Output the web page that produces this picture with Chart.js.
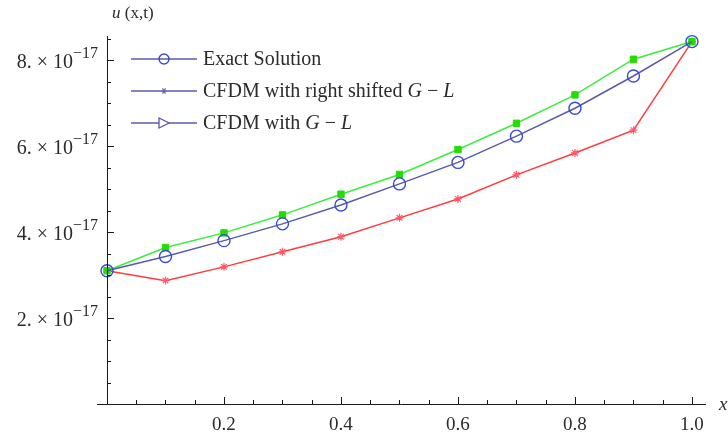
<!DOCTYPE html>
<html>
<head>
<meta charset="utf-8">
<script src="https://cdn.jsdelivr.net/npm/chart.js@4.4.1/dist/chart.umd.min.js"></script>
<style>
html,body{margin:0;padding:0;background:#fff;}
#wrap{width:728px;height:434px;}
</style>
</head>
<body>
<div id="wrap"><canvas id="c" width="728" height="434"></canvas></div>
<script>
// ---- data ----
const xValues = [0.0, 0.1, 0.2, 0.3, 0.4, 0.5, 0.6, 0.7, 0.8, 0.9, 1.0];
const exactSolution = [3.10e-17, 3.43e-17, 3.80e-17, 4.19e-17, 4.63e-17, 5.12e-17, 5.62e-17, 6.23e-17, 6.88e-17, 7.63e-17, 8.43e-17];
const rightShiftedGL = [3.10e-17, 2.87e-17, 3.19e-17, 3.54e-17, 3.89e-17, 4.33e-17, 4.77e-17, 5.33e-17, 5.84e-17, 6.37e-17, 8.43e-17];
const standardGL = [3.10e-17, 3.64e-17, 3.98e-17, 4.40e-17, 4.88e-17, 5.34e-17, 5.92e-17, 6.53e-17, 7.19e-17, 8.02e-17, 8.43e-17];
const xTickValues = [0.2, 0.4, 0.6, 0.8, 1.0];
const xTickLabels = ['0.2', '0.4', '0.6', '0.8', '1.0'];
const yTickValues = [2e-17, 4e-17, 6e-17, 8e-17];
const yTickMantissas = ['2.', '4.', '6.', '8.'];
const yTickExponent = '\u221217';
const legendLabels = [
  [['Exact Solution', false]],
  [['CFDM with right shifted ', false], ['G', true], [' \u2212 ', false], ['L', true]],
  [['CFDM with ', false], ['G', true], [' \u2212 ', false], ['L', true]]
];
const yAxisTitle = [['u', true], [' (x,t)', false]];
const xAxisTitle = 'x';

const SERIF = '"Liberation Serif", "DejaVu Serif", serif';
const TEXT = '#2b2b2b';
const AXIS = '#1a1a1a';

function pts(ys){ return xValues.map((x,i)=>({x:x, y:ys[i]})); }

function drawRich(ctx, parts, x, y, size){
  let cx = x;
  for (const [t, it] of parts){
    ctx.font = (it ? 'italic ' : '') + size + 'px ' + SERIF;
    ctx.fillText(t, cx, y);
    cx += ctx.measureText(t).width;
  }
  return cx;
}

const axesPlugin = {
  id: 'mmaAxes',
  afterDatasetsDraw(chart){
    const ctx = chart.ctx, xs = chart.scales.x, ys = chart.scales.y, ca = chart.chartArea;
    const x0 = xs.getPixelForValue(0), y0 = ys.getPixelForValue(0);
    ctx.save();
    ctx.strokeStyle = AXIS; ctx.lineWidth = 1;
    // axes lines
    ctx.beginPath();
    ctx.moveTo(x0 - 10, y0 + 0.5); ctx.lineTo(ca.right, y0 + 0.5);
    ctx.moveTo(x0 + 0.5, y0); ctx.lineTo(x0 + 0.5, ca.top);
    ctx.stroke();
    // x ticks
    ctx.beginPath();
    for (let k = 1; k <= 20; k++){
      const v = k * 0.05;
      const px = Math.round(xs.getPixelForValue(v)) + 0.5;
      const major = (k % 4 === 0);
      ctx.moveTo(px, y0); ctx.lineTo(px, y0 - (major ? 7 : 4));
    }
    // y ticks
    for (let k = 1; k <= 17; k++){
      const v = k * 0.5e-17;
      const py = Math.round(ys.getPixelForValue(v)) + 0.5;
      const major = (k % 4 === 0);
      ctx.moveTo(x0, py); ctx.lineTo(x0 + (major ? 7 : 4), py);
    }
    ctx.stroke();
    // x labels
    ctx.fillStyle = TEXT; ctx.textBaseline = 'middle'; ctx.textAlign = 'center';
    ctx.font = '19px ' + SERIF;
    xTickValues.forEach((v,i)=>{ ctx.fillText(xTickLabels[i], xs.getPixelForValue(v), y0 + 21); });
    // y labels
    ctx.textAlign = 'left';
    yTickValues.forEach((v,i)=>{
      const py = ys.getPixelForValue(v);
      ctx.font = '16px ' + SERIF;
      const wSup = ctx.measureText(yTickExponent).width;
      ctx.font = '20px ' + SERIF;
      const main = yTickMantissas[i] + ' \u00d7 10';
      const wMain = ctx.measureText(main).width;
      const right = x0 - 9;
      const start = right - wSup - wMain;
      ctx.fillText(main, start, py + 3);
      ctx.font = '16px ' + SERIF;
      ctx.fillText(yTickExponent, start + wMain, py - 6);
    });
    // axis titles
    drawRich(ctx, yAxisTitle, 112, 14, 17);
    ctx.font = 'italic 19px ' + SERIF;
    ctx.fillText(xAxisTitle, 719, y0 + 1);
    // legend
    const markerColors = ['#3a4ad0', '#6a6ab0', '#5858b0'];
    const rows = [59, 91, 123];
    rows.forEach((ry, i)=>{
      ctx.strokeStyle = '#5a5aa8'; ctx.lineWidth = 1.4;
      ctx.beginPath(); ctx.moveTo(131, ry); ctx.lineTo(197, ry); ctx.stroke();
      ctx.strokeStyle = markerColors[i]; ctx.fillStyle = '#fff';
      if (i === 0){
        ctx.lineWidth = 1.4; ctx.beginPath(); ctx.arc(164, ry, 5, 0, Math.PI*2); ctx.stroke();
      } else if (i === 1){
        ctx.lineWidth = 1.2; ctx.beginPath();
        for (let a = 0; a < 3; a++){ const t = a*Math.PI/3; ctx.moveTo(164 - 3*Math.cos(t), ry - 3*Math.sin(t)); ctx.lineTo(164 + 3*Math.cos(t), ry + 3*Math.sin(t)); }
        ctx.stroke();
      } else {
        ctx.lineWidth = 1.3; ctx.beginPath(); ctx.moveTo(159, ry - 5); ctx.lineTo(169, ry); ctx.lineTo(159, ry + 5); ctx.closePath(); ctx.fill(); ctx.stroke();
      }
      ctx.fillStyle = TEXT; ctx.textAlign = 'left'; ctx.textBaseline = 'middle';
      drawRich(ctx, legendLabels[i], 203, ry + 1, 20);
    });
    ctx.restore();
  }
};

new Chart(document.getElementById('c'), {
  type: 'line',
  data: {
    datasets: [
      { label: 'Exact Solution', data: pts(exactSolution), borderColor: '#5a5aa8', borderWidth: 1.5,
        pointStyle: 'circle', pointRadius: 6, pointBorderColor: '#3a4ad0', pointBorderWidth: 1.4,
        pointBackgroundColor: 'rgba(0,0,0,0)', tension: 0, clip: false, order: 0 },
      { label: 'CFDM with right shifted G - L', data: pts(rightShiftedGL), borderColor: '#ff3b3b', borderWidth: 1.5,
        pointStyle: 'star', pointRadius: 4, pointBorderColor: '#ff5a6a', pointBorderWidth: 1.2,
        pointBackgroundColor: '#ff5a6a', tension: 0, clip: false, order: 2 },
      { label: 'CFDM with G - L', data: pts(standardGL), borderColor: '#3ded3d', borderWidth: 1.5,
        pointStyle: 'rect', pointRadius: 4.5, pointBorderColor: '#22dd00', pointBorderWidth: 1,
        pointBackgroundColor: '#22dd00', tension: 0, clip: false, order: 1 }
    ]
  },
  options: {
    responsive: false, animation: false, devicePixelRatio: 1,
    layout: { padding: { left: 107, right: 22, top: 36, bottom: 30 } },
    plugins: { legend: { display: false }, tooltip: { enabled: false } },
    scales: {
      x: { type: 'linear', min: 0, max: 1.024, display: false },
      y: { type: 'linear', min: 0, max: 8.56e-17, display: false }
    }
  },
  plugins: [axesPlugin]
});
</script>
</body>
</html>
